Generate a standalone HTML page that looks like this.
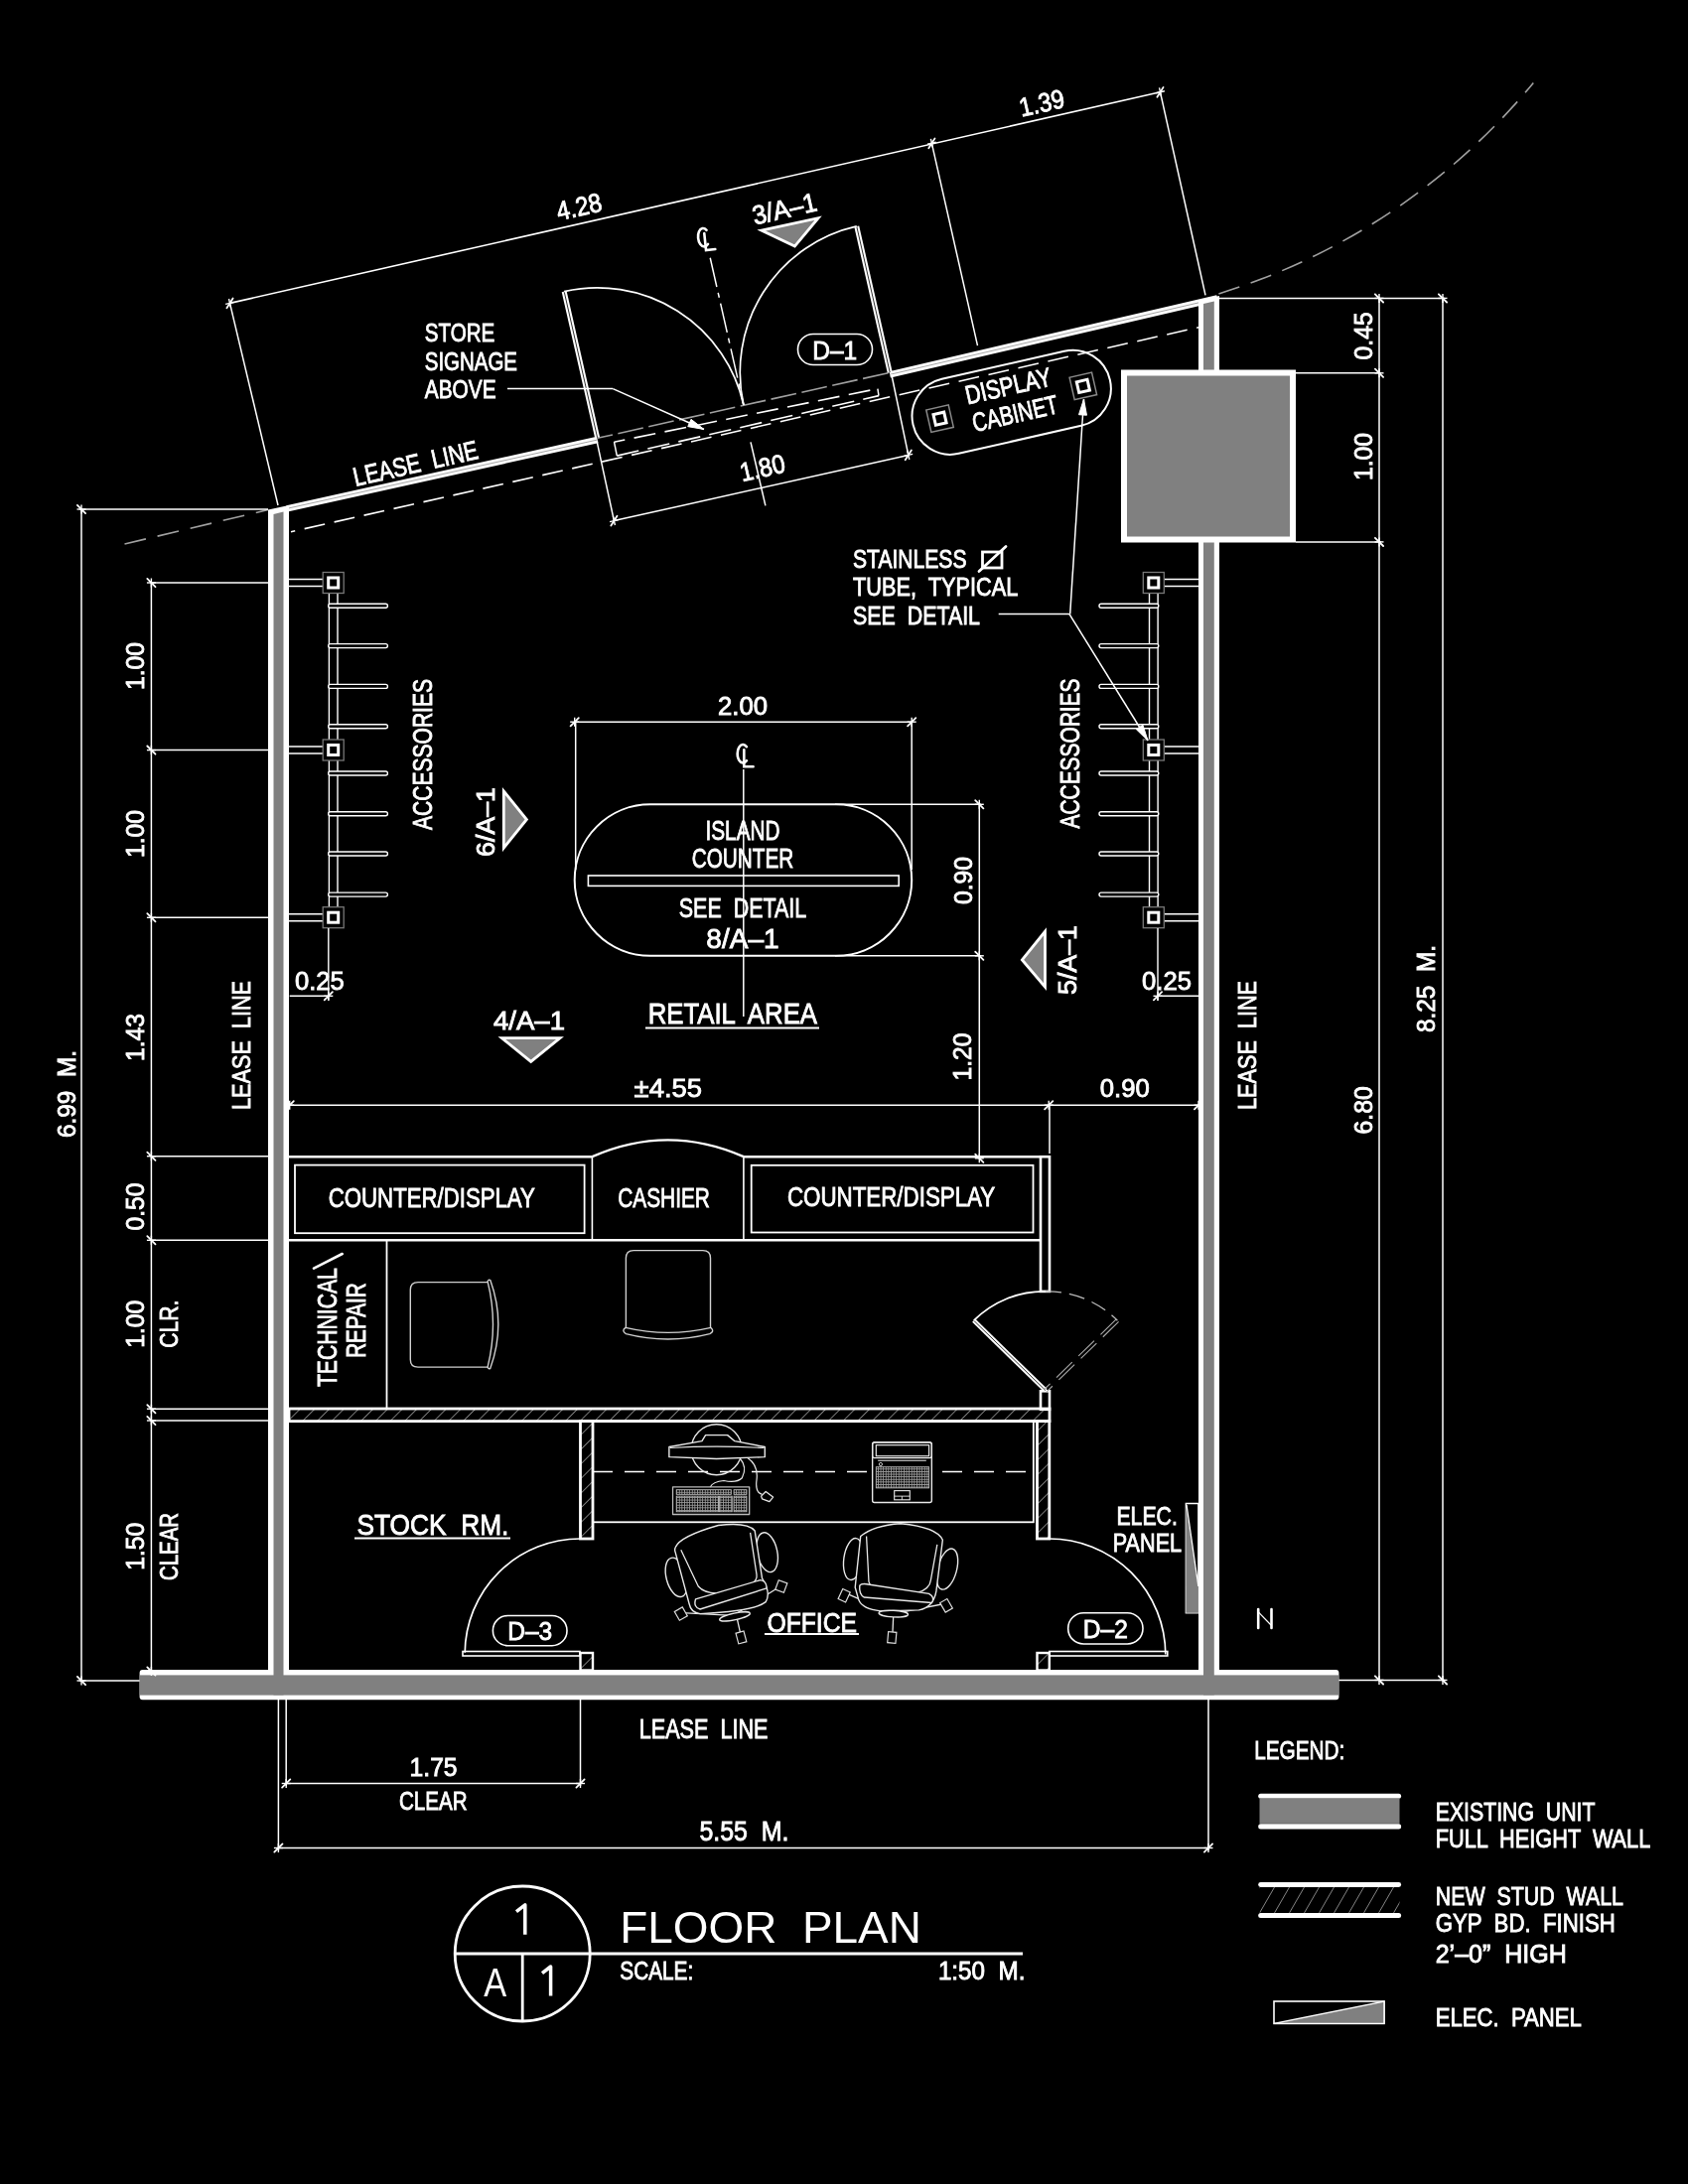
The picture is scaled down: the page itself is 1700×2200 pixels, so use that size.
<!DOCTYPE html>
<html><head><meta charset="utf-8"><style>
html,body{margin:0;padding:0;background:#000;}
svg{display:block;will-change:transform;}
text{font-family:"Liberation Sans", sans-serif;}
</style></head><body>
<svg width="1700" height="2200" viewBox="0 0 1700 2200" style="background:#000">
<path d="M1227.4,295.9 A662.4,662.4 0 0 0 1544.3,83.5" fill="none" stroke="#a0a0a0" stroke-width="1.6" stroke-dasharray="22 12"/>
<line x1="125.5" y1="548" x2="270" y2="513.5" stroke="#a0a0a0" stroke-width="1.6" stroke-dasharray="22 12" stroke-linecap="butt"/>
<line x1="231.5" y1="305.4" x2="1168.5" y2="92.8" stroke="#fff" stroke-width="1.6" stroke-linecap="butt"/>
<line x1="228.41" y1="310.31" x2="234.59" y2="300.49" stroke="#fff" stroke-width="1.8" stroke-linecap="round"/>
<line x1="227.11" y1="306.4" x2="235.89" y2="304.4" stroke="#fff" stroke-width="1.4" stroke-linecap="butt"/>
<line x1="230.5" y1="301.01" x2="232.5" y2="309.79" stroke="#fff" stroke-width="1.4" stroke-linecap="butt"/>
<line x1="935.31" y1="149.21" x2="941.49" y2="139.39" stroke="#fff" stroke-width="1.8" stroke-linecap="round"/>
<line x1="934.01" y1="145.3" x2="942.79" y2="143.3" stroke="#fff" stroke-width="1.4" stroke-linecap="butt"/>
<line x1="937.4" y1="139.91" x2="939.4" y2="148.69" stroke="#fff" stroke-width="1.4" stroke-linecap="butt"/>
<line x1="1165.41" y1="97.71" x2="1171.59" y2="87.89" stroke="#fff" stroke-width="1.8" stroke-linecap="round"/>
<line x1="1164.11" y1="93.8" x2="1172.89" y2="91.8" stroke="#fff" stroke-width="1.4" stroke-linecap="butt"/>
<line x1="1167.5" y1="88.41" x2="1169.5" y2="97.19" stroke="#fff" stroke-width="1.4" stroke-linecap="butt"/>
<line x1="231.5" y1="305.4" x2="280" y2="509" stroke="#fff" stroke-width="1.5" stroke-linecap="butt"/>
<line x1="938.4" y1="144.3" x2="984.5" y2="348.2" stroke="#fff" stroke-width="1.5" stroke-linecap="butt"/>
<line x1="1168.5" y1="92.8" x2="1214" y2="297.3" stroke="#fff" stroke-width="1.5" stroke-linecap="butt"/>
<text transform="translate(583,208) rotate(-12.8)" x="0" y="9.5" font-size="26.54" text-anchor="middle" fill="#fff" stroke="#fff" stroke-width="0.85" textLength="46" lengthAdjust="spacingAndGlyphs" font-weight="normal" xml:space="preserve">4.28</text>
<text transform="translate(1049,103.5) rotate(-12.8)" x="0" y="9.5" font-size="26.54" text-anchor="middle" fill="#fff" stroke="#fff" stroke-width="0.85" textLength="46" lengthAdjust="spacingAndGlyphs" font-weight="normal" xml:space="preserve">1.39</text>
<line x1="289" y1="512.3" x2="601.8" y2="443" stroke="#fff" stroke-width="6.5" stroke-linecap="butt"/>
<line x1="289" y1="512.3" x2="601.8" y2="443" stroke="#9a9a9a" stroke-width="0.9" stroke-linecap="butt"/>
<line x1="896.2" y1="377.3" x2="1226" y2="300.5" stroke="#fff" stroke-width="6.5" stroke-linecap="butt"/>
<line x1="896.2" y1="377.3" x2="1226" y2="300.5" stroke="#9a9a9a" stroke-width="0.9" stroke-linecap="butt"/>
<line x1="601.8" y1="441.3" x2="896.2" y2="375.3" stroke="#a0a0a0" stroke-width="1.6" stroke-dasharray="26 5.6" stroke-dashoffset="10.5" stroke-linecap="butt"/>
<line x1="618.5" y1="445.2" x2="883.9" y2="391.6" stroke="#fff" stroke-width="1.6" stroke-dasharray="22 9.5" stroke-dashoffset="11" stroke-linecap="butt"/>
<line x1="621.3" y1="459.1" x2="885" y2="398.6" stroke="#fff" stroke-width="1.6" stroke-dasharray="22.5 9.3" stroke-linecap="butt"/>
<line x1="618.5" y1="445.2" x2="621.3" y2="459.1" stroke="#fff" stroke-width="1.5" stroke-linecap="butt"/>
<line x1="883.9" y1="391.6" x2="885" y2="398.6" stroke="#fff" stroke-width="1.5" stroke-linecap="butt"/>
<line x1="293" y1="535.7" x2="1214.9" y2="328" stroke="#fff" stroke-width="1.6" stroke-dasharray="21 9.7" stroke-dashoffset="16.7" stroke-linecap="butt"/>
<line x1="601.6" y1="440.8" x2="568.16" y2="293.63" stroke="#fff" stroke-width="5" stroke-linecap="butt"/>
<line x1="601.6" y1="440.8" x2="568.16" y2="293.63" stroke="#333" stroke-width="1" stroke-linecap="butt"/>
<line x1="896.2" y1="375.1" x2="862.76" y2="227.93" stroke="#fff" stroke-width="5" stroke-linecap="butt"/>
<line x1="896.2" y1="375.1" x2="862.76" y2="227.93" stroke="#333" stroke-width="1" stroke-linecap="butt"/>
<path d="M568.16,293.63 A150.92,150.92 0 0 1 748.9,407.95" fill="none" stroke="#fff" stroke-width="1.7"/>
<path d="M862.76,227.93 A150.92,150.92 0 0 0 748.9,407.95" fill="none" stroke="#fff" stroke-width="1.7"/>
<line x1="715.22" y1="259.73" x2="748.9" y2="407.95" stroke="#fff" stroke-width="1.5" stroke-dasharray="30 6 5 6" stroke-linecap="butt"/>
<line x1="756" y1="445.3" x2="770.9" y2="509.3" stroke="#fff" stroke-width="1.5" stroke-linecap="butt"/>
<g transform="translate(708.7,239.2) rotate(-6)" fill="none" stroke="#fff" stroke-width="2.6" stroke-linecap="round"><path d="M3.6,-7 A5.6,9.2 0 1 0 3.6,7"/><path d="M1,-4 V13 H10.3"/></g>
<text transform="translate(790,210) rotate(-12.8)" x="0" y="9.5" font-size="26.54" text-anchor="middle" fill="#fff" stroke="#fff" stroke-width="0.85" textLength="66" lengthAdjust="spacingAndGlyphs" font-weight="normal" xml:space="preserve">3/A–1</text>
<polygon points="766.7,232.1 824.1,219.7 800.4,248.1" fill="#808080" stroke="#fff" stroke-width="2.8" stroke-linejoin="miter" stroke-linecap="butt"/>
<rect x="803.5" y="336.5" width="75" height="31" rx="15.5" fill="none" stroke="#fff" stroke-width="1.6"/>
<text transform="translate(840.7,352) rotate(0)" x="0" y="9.5" font-size="26.54" text-anchor="middle" fill="#fff" stroke="#fff" stroke-width="0.85" textLength="45" lengthAdjust="spacingAndGlyphs" font-weight="normal" xml:space="preserve">D–1</text>
<text x="427.8" y="344.4" font-size="26.54" fill="#fff" stroke="#fff" stroke-width="0.85" textLength="70.5" lengthAdjust="spacingAndGlyphs" xml:space="preserve">STORE</text>
<text x="427.8" y="372.6" font-size="26.54" fill="#fff" stroke="#fff" stroke-width="0.85" textLength="93.2" lengthAdjust="spacingAndGlyphs" xml:space="preserve">SIGNAGE</text>
<text x="427.8" y="400.6" font-size="26.54" fill="#fff" stroke="#fff" stroke-width="0.85" textLength="71.8" lengthAdjust="spacingAndGlyphs" xml:space="preserve">ABOVE</text>
<line x1="511" y1="391.6" x2="617.3" y2="391.6" stroke="#fff" stroke-width="1.5" stroke-linecap="butt"/>
<line x1="617.3" y1="391.6" x2="709" y2="432.5" stroke="#fff" stroke-width="1.5" stroke-linecap="butt"/>
<polygon points="709,432.5 692.76,429.64 696.02,422.33" fill="#fff" stroke="#fff" stroke-width="1" stroke-linejoin="miter" stroke-linecap="butt"/>
<text transform="translate(418.4,466.5) rotate(-12.8)" x="0" y="9.5" font-size="26.54" text-anchor="middle" fill="#fff" stroke="#fff" stroke-width="0.85" textLength="128" lengthAdjust="spacingAndGlyphs" font-weight="normal" xml:space="preserve">LEASE  LINE</text>
<line x1="618.4" y1="524.6" x2="914.8" y2="458.4" stroke="#fff" stroke-width="1.5" stroke-linecap="butt"/>
<line x1="615.31" y1="529.51" x2="621.49" y2="519.69" stroke="#fff" stroke-width="1.8" stroke-linecap="round"/>
<line x1="614.01" y1="525.6" x2="622.79" y2="523.6" stroke="#fff" stroke-width="1.4" stroke-linecap="butt"/>
<line x1="617.4" y1="520.21" x2="619.4" y2="528.99" stroke="#fff" stroke-width="1.4" stroke-linecap="butt"/>
<line x1="911.71" y1="463.31" x2="917.89" y2="453.49" stroke="#fff" stroke-width="1.8" stroke-linecap="round"/>
<line x1="910.41" y1="459.4" x2="919.19" y2="457.4" stroke="#fff" stroke-width="1.4" stroke-linecap="butt"/>
<line x1="913.8" y1="454.01" x2="915.8" y2="462.79" stroke="#fff" stroke-width="1.4" stroke-linecap="butt"/>
<line x1="601.3" y1="445.3" x2="618.4" y2="524.6" stroke="#fff" stroke-width="1.5" stroke-linecap="butt"/>
<line x1="897.8" y1="377" x2="914.8" y2="458.4" stroke="#fff" stroke-width="1.5" stroke-linecap="butt"/>
<text transform="translate(767.7,471) rotate(-12.8)" x="0" y="9.5" font-size="26.54" text-anchor="middle" fill="#fff" stroke="#fff" stroke-width="0.85" textLength="46" lengthAdjust="spacingAndGlyphs" font-weight="normal" xml:space="preserve">1.80</text>
<g transform="translate(1018.7,405.3) rotate(-12.8)"><rect x="-101.7" y="-38.5" width="203.4" height="77" rx="38.5" fill="none" stroke="#fff" stroke-width="2"/><rect x="-85.5" y="-11.5" width="23" height="23" fill="none" stroke="#888" stroke-width="1.5"/><rect x="-79.5" y="-5.5" width="11" height="11" fill="none" stroke="#fff" stroke-width="3"/><rect x="62.5" y="-11.5" width="23" height="23" fill="none" stroke="#888" stroke-width="1.5"/><rect x="68.5" y="-5.5" width="11" height="11" fill="none" stroke="#fff" stroke-width="3"/></g>
<text transform="translate(1015.4,388.5) rotate(-12.8)" x="0" y="9.5" font-size="26.54" text-anchor="middle" fill="#fff" stroke="#fff" stroke-width="0.85" textLength="88" lengthAdjust="spacingAndGlyphs" font-weight="normal" xml:space="preserve">DISPLAY</text>
<text transform="translate(1022.2,416.2) rotate(-12.8)" x="0" y="9.5" font-size="26.54" text-anchor="middle" fill="#fff" stroke="#fff" stroke-width="0.85" textLength="88" lengthAdjust="spacingAndGlyphs" font-weight="normal" xml:space="preserve">CABINET</text>
<rect x="140.6" y="1682" width="1207.8" height="30.3" rx="3" fill="#fff"/>
<polygon points="270,513.5 291,509 291,1687 270,1687" fill="#fff" stroke-linejoin="miter" stroke-linecap="butt"/>
<polygon points="1207,302.5 1228,298 1228,1687 1207,1687" fill="#fff" stroke-linejoin="miter" stroke-linecap="butt"/>
<rect x="140.6" y="1687.4" width="1207.8" height="20.2" rx="0" fill="#808080"/>
<polygon points="275.5,518 285.5,515.5 285.5,1707.5 275.5,1707.5" fill="#808080" stroke-linejoin="miter" stroke-linecap="butt"/>
<polygon points="1212,306 1222.8,303.6 1222.8,1707.5 1212,1707.5" fill="#808080" stroke-linejoin="miter" stroke-linecap="butt"/>
<rect x="1132" y="375.5" width="170" height="168" rx="0" fill="#808080" stroke="#fff" stroke-width="6"/>
<line x1="1228" y1="300.4" x2="1455" y2="300.4" stroke="#fff" stroke-width="1.5" stroke-linecap="butt"/>
<line x1="1305" y1="375.8" x2="1391" y2="375.8" stroke="#fff" stroke-width="1.5" stroke-linecap="butt"/>
<line x1="1305" y1="545.9" x2="1391" y2="545.9" stroke="#fff" stroke-width="1.5" stroke-linecap="butt"/>
<line x1="1348.4" y1="1692.4" x2="1455" y2="1692.4" stroke="#fff" stroke-width="1.5" stroke-linecap="butt"/>
<line x1="1389" y1="300.4" x2="1389" y2="1692.4" stroke="#fff" stroke-width="1.5" stroke-linecap="butt"/>
<line x1="1453" y1="300.4" x2="1453" y2="1692.4" stroke="#fff" stroke-width="1.5" stroke-linecap="butt"/>
<line x1="1393.1" y1="304.5" x2="1384.9" y2="296.3" stroke="#fff" stroke-width="1.8" stroke-linecap="round"/>
<line x1="1389" y1="304.9" x2="1389" y2="295.9" stroke="#fff" stroke-width="1.4" stroke-linecap="butt"/>
<line x1="1384.5" y1="300.4" x2="1393.5" y2="300.4" stroke="#fff" stroke-width="1.4" stroke-linecap="butt"/>
<line x1="1393.1" y1="379.9" x2="1384.9" y2="371.7" stroke="#fff" stroke-width="1.8" stroke-linecap="round"/>
<line x1="1389" y1="380.3" x2="1389" y2="371.3" stroke="#fff" stroke-width="1.4" stroke-linecap="butt"/>
<line x1="1384.5" y1="375.8" x2="1393.5" y2="375.8" stroke="#fff" stroke-width="1.4" stroke-linecap="butt"/>
<line x1="1393.1" y1="550" x2="1384.9" y2="541.8" stroke="#fff" stroke-width="1.8" stroke-linecap="round"/>
<line x1="1389" y1="550.4" x2="1389" y2="541.4" stroke="#fff" stroke-width="1.4" stroke-linecap="butt"/>
<line x1="1384.5" y1="545.9" x2="1393.5" y2="545.9" stroke="#fff" stroke-width="1.4" stroke-linecap="butt"/>
<line x1="1393.1" y1="1696.5" x2="1384.9" y2="1688.3" stroke="#fff" stroke-width="1.8" stroke-linecap="round"/>
<line x1="1389" y1="1696.9" x2="1389" y2="1687.9" stroke="#fff" stroke-width="1.4" stroke-linecap="butt"/>
<line x1="1384.5" y1="1692.4" x2="1393.5" y2="1692.4" stroke="#fff" stroke-width="1.4" stroke-linecap="butt"/>
<line x1="1457.1" y1="304.5" x2="1448.9" y2="296.3" stroke="#fff" stroke-width="1.8" stroke-linecap="round"/>
<line x1="1453" y1="304.9" x2="1453" y2="295.9" stroke="#fff" stroke-width="1.4" stroke-linecap="butt"/>
<line x1="1448.5" y1="300.4" x2="1457.5" y2="300.4" stroke="#fff" stroke-width="1.4" stroke-linecap="butt"/>
<line x1="1457.1" y1="1696.5" x2="1448.9" y2="1688.3" stroke="#fff" stroke-width="1.8" stroke-linecap="round"/>
<line x1="1453" y1="1696.9" x2="1453" y2="1687.9" stroke="#fff" stroke-width="1.4" stroke-linecap="butt"/>
<line x1="1448.5" y1="1692.4" x2="1457.5" y2="1692.4" stroke="#fff" stroke-width="1.4" stroke-linecap="butt"/>
<text transform="translate(1372,338.4) rotate(-90)" x="0" y="9.5" font-size="26.54" text-anchor="middle" fill="#fff" stroke="#fff" stroke-width="0.85" textLength="48" lengthAdjust="spacingAndGlyphs" font-weight="normal" xml:space="preserve">0.45</text>
<text transform="translate(1372,460) rotate(-90)" x="0" y="9.5" font-size="26.54" text-anchor="middle" fill="#fff" stroke="#fff" stroke-width="0.85" textLength="48" lengthAdjust="spacingAndGlyphs" font-weight="normal" xml:space="preserve">1.00</text>
<text transform="translate(1372.5,1118.4) rotate(-90)" x="0" y="9.5" font-size="26.54" text-anchor="middle" fill="#fff" stroke="#fff" stroke-width="0.85" textLength="48" lengthAdjust="spacingAndGlyphs" font-weight="normal" xml:space="preserve">6.80</text>
<text transform="translate(1435.8,996) rotate(-90)" x="0" y="9.5" font-size="26.54" text-anchor="middle" fill="#fff" stroke="#fff" stroke-width="0.85" textLength="88" lengthAdjust="spacingAndGlyphs" font-weight="normal" xml:space="preserve">8.25  M.</text>
<text transform="translate(1255.3,1053) rotate(-90)" x="0" y="9.5" font-size="26.54" text-anchor="middle" fill="#fff" stroke="#fff" stroke-width="0.85" textLength="130" lengthAdjust="spacingAndGlyphs" font-weight="normal" xml:space="preserve">LEASE  LINE</text>
<line x1="80" y1="513" x2="270" y2="513" stroke="#fff" stroke-width="1.5" stroke-linecap="butt"/>
<line x1="80" y1="1693" x2="140.6" y2="1693" stroke="#fff" stroke-width="1.5" stroke-linecap="butt"/>
<line x1="82" y1="513" x2="82" y2="1693" stroke="#fff" stroke-width="1.5" stroke-linecap="butt"/>
<line x1="86.1" y1="517.1" x2="77.9" y2="508.9" stroke="#fff" stroke-width="1.8" stroke-linecap="round"/>
<line x1="82" y1="517.5" x2="82" y2="508.5" stroke="#fff" stroke-width="1.4" stroke-linecap="butt"/>
<line x1="77.5" y1="513" x2="86.5" y2="513" stroke="#fff" stroke-width="1.4" stroke-linecap="butt"/>
<line x1="86.1" y1="1697.1" x2="77.9" y2="1688.9" stroke="#fff" stroke-width="1.8" stroke-linecap="round"/>
<line x1="82" y1="1697.5" x2="82" y2="1688.5" stroke="#fff" stroke-width="1.4" stroke-linecap="butt"/>
<line x1="77.5" y1="1693" x2="86.5" y2="1693" stroke="#fff" stroke-width="1.4" stroke-linecap="butt"/>
<line x1="152.4" y1="587" x2="152.4" y2="1683.5" stroke="#fff" stroke-width="1.5" stroke-linecap="butt"/>
<line x1="152.4" y1="587" x2="270" y2="587" stroke="#fff" stroke-width="1.5" stroke-linecap="butt"/>
<line x1="152.4" y1="755.6" x2="270" y2="755.6" stroke="#fff" stroke-width="1.5" stroke-linecap="butt"/>
<line x1="152.4" y1="924.3" x2="270" y2="924.3" stroke="#fff" stroke-width="1.5" stroke-linecap="butt"/>
<line x1="152.4" y1="1164.7" x2="270" y2="1164.7" stroke="#fff" stroke-width="1.5" stroke-linecap="butt"/>
<line x1="152.4" y1="1249.3" x2="270" y2="1249.3" stroke="#fff" stroke-width="1.5" stroke-linecap="butt"/>
<line x1="152.4" y1="1419.2" x2="270" y2="1419.2" stroke="#fff" stroke-width="1.5" stroke-linecap="butt"/>
<line x1="152.4" y1="1431" x2="270" y2="1431" stroke="#fff" stroke-width="1.5" stroke-linecap="butt"/>
<line x1="156.5" y1="591.1" x2="148.3" y2="582.9" stroke="#fff" stroke-width="1.8" stroke-linecap="round"/>
<line x1="152.4" y1="591.5" x2="152.4" y2="582.5" stroke="#fff" stroke-width="1.4" stroke-linecap="butt"/>
<line x1="147.9" y1="587" x2="156.9" y2="587" stroke="#fff" stroke-width="1.4" stroke-linecap="butt"/>
<line x1="156.5" y1="759.7" x2="148.3" y2="751.5" stroke="#fff" stroke-width="1.8" stroke-linecap="round"/>
<line x1="152.4" y1="760.1" x2="152.4" y2="751.1" stroke="#fff" stroke-width="1.4" stroke-linecap="butt"/>
<line x1="147.9" y1="755.6" x2="156.9" y2="755.6" stroke="#fff" stroke-width="1.4" stroke-linecap="butt"/>
<line x1="156.5" y1="928.4" x2="148.3" y2="920.2" stroke="#fff" stroke-width="1.8" stroke-linecap="round"/>
<line x1="152.4" y1="928.8" x2="152.4" y2="919.8" stroke="#fff" stroke-width="1.4" stroke-linecap="butt"/>
<line x1="147.9" y1="924.3" x2="156.9" y2="924.3" stroke="#fff" stroke-width="1.4" stroke-linecap="butt"/>
<line x1="156.5" y1="1168.8" x2="148.3" y2="1160.6" stroke="#fff" stroke-width="1.8" stroke-linecap="round"/>
<line x1="152.4" y1="1169.2" x2="152.4" y2="1160.2" stroke="#fff" stroke-width="1.4" stroke-linecap="butt"/>
<line x1="147.9" y1="1164.7" x2="156.9" y2="1164.7" stroke="#fff" stroke-width="1.4" stroke-linecap="butt"/>
<line x1="156.5" y1="1253.4" x2="148.3" y2="1245.2" stroke="#fff" stroke-width="1.8" stroke-linecap="round"/>
<line x1="152.4" y1="1253.8" x2="152.4" y2="1244.8" stroke="#fff" stroke-width="1.4" stroke-linecap="butt"/>
<line x1="147.9" y1="1249.3" x2="156.9" y2="1249.3" stroke="#fff" stroke-width="1.4" stroke-linecap="butt"/>
<line x1="156.5" y1="1423.3" x2="148.3" y2="1415.1" stroke="#fff" stroke-width="1.8" stroke-linecap="round"/>
<line x1="152.4" y1="1423.7" x2="152.4" y2="1414.7" stroke="#fff" stroke-width="1.4" stroke-linecap="butt"/>
<line x1="147.9" y1="1419.2" x2="156.9" y2="1419.2" stroke="#fff" stroke-width="1.4" stroke-linecap="butt"/>
<line x1="156.5" y1="1435.1" x2="148.3" y2="1426.9" stroke="#fff" stroke-width="1.8" stroke-linecap="round"/>
<line x1="152.4" y1="1435.5" x2="152.4" y2="1426.5" stroke="#fff" stroke-width="1.4" stroke-linecap="butt"/>
<line x1="147.9" y1="1431" x2="156.9" y2="1431" stroke="#fff" stroke-width="1.4" stroke-linecap="butt"/>
<line x1="156.5" y1="1687.6" x2="148.3" y2="1679.4" stroke="#fff" stroke-width="1.8" stroke-linecap="round"/>
<line x1="152.4" y1="1688" x2="152.4" y2="1679" stroke="#fff" stroke-width="1.4" stroke-linecap="butt"/>
<line x1="147.9" y1="1683.5" x2="156.9" y2="1683.5" stroke="#fff" stroke-width="1.4" stroke-linecap="butt"/>
<text transform="translate(135.6,671) rotate(-90)" x="0" y="9.5" font-size="26.54" text-anchor="middle" fill="#fff" stroke="#fff" stroke-width="0.85" textLength="48" lengthAdjust="spacingAndGlyphs" font-weight="normal" xml:space="preserve">1.00</text>
<text transform="translate(135.6,840) rotate(-90)" x="0" y="9.5" font-size="26.54" text-anchor="middle" fill="#fff" stroke="#fff" stroke-width="0.85" textLength="48" lengthAdjust="spacingAndGlyphs" font-weight="normal" xml:space="preserve">1.00</text>
<text transform="translate(135.3,1045) rotate(-90)" x="0" y="9.5" font-size="26.54" text-anchor="middle" fill="#fff" stroke="#fff" stroke-width="0.85" textLength="48" lengthAdjust="spacingAndGlyphs" font-weight="normal" xml:space="preserve">1.43</text>
<text transform="translate(135.3,1215.5) rotate(-90)" x="0" y="9.5" font-size="26.54" text-anchor="middle" fill="#fff" stroke="#fff" stroke-width="0.85" textLength="48" lengthAdjust="spacingAndGlyphs" font-weight="normal" xml:space="preserve">0.50</text>
<text transform="translate(135.3,1333.7) rotate(-90)" x="0" y="9.5" font-size="26.54" text-anchor="middle" fill="#fff" stroke="#fff" stroke-width="0.85" textLength="48" lengthAdjust="spacingAndGlyphs" font-weight="normal" xml:space="preserve">1.00</text>
<text transform="translate(169,1333.7) rotate(-90)" x="0" y="9.5" font-size="26.54" text-anchor="middle" fill="#fff" stroke="#fff" stroke-width="0.85" textLength="48" lengthAdjust="spacingAndGlyphs" font-weight="normal" xml:space="preserve">CLR.</text>
<text transform="translate(135.5,1557.7) rotate(-90)" x="0" y="9.5" font-size="26.54" text-anchor="middle" fill="#fff" stroke="#fff" stroke-width="0.85" textLength="48" lengthAdjust="spacingAndGlyphs" font-weight="normal" xml:space="preserve">1.50</text>
<text transform="translate(169,1558) rotate(-90)" x="0" y="9.5" font-size="26.54" text-anchor="middle" fill="#fff" stroke="#fff" stroke-width="0.85" textLength="68" lengthAdjust="spacingAndGlyphs" font-weight="normal" xml:space="preserve">CLEAR</text>
<text transform="translate(66,1102) rotate(-90)" x="0" y="9.5" font-size="26.54" text-anchor="middle" fill="#fff" stroke="#fff" stroke-width="0.85" textLength="88" lengthAdjust="spacingAndGlyphs" font-weight="normal" xml:space="preserve">6.99  M.</text>
<text transform="translate(242,1053) rotate(-90)" x="0" y="9.5" font-size="26.54" text-anchor="middle" fill="#fff" stroke="#fff" stroke-width="0.85" textLength="130" lengthAdjust="spacingAndGlyphs" font-weight="normal" xml:space="preserve">LEASE  LINE</text>
<rect x="331.4" y="583" width="8.6" height="345" rx="0" fill="none" stroke="#fff" stroke-width="1.4"/>
<rect x="330.7" y="608.3" width="59.7" height="4" rx="2" fill="#000" stroke="#fff" stroke-width="1.4"/>
<rect x="330.7" y="648.6" width="59.7" height="4" rx="2" fill="#000" stroke="#fff" stroke-width="1.4"/>
<rect x="330.7" y="689.4" width="59.7" height="4" rx="2" fill="#000" stroke="#fff" stroke-width="1.4"/>
<rect x="330.7" y="729.7" width="59.7" height="4" rx="2" fill="#000" stroke="#fff" stroke-width="1.4"/>
<rect x="330.7" y="777" width="59.7" height="4" rx="2" fill="#000" stroke="#fff" stroke-width="1.4"/>
<rect x="330.7" y="817.8" width="59.7" height="4" rx="2" fill="#000" stroke="#fff" stroke-width="1.4"/>
<rect x="330.7" y="858" width="59.7" height="4" rx="2" fill="#000" stroke="#fff" stroke-width="1.4"/>
<rect x="330.7" y="899.1" width="59.7" height="4" rx="2" fill="#000" stroke="#fff" stroke-width="1.4"/>
<line x1="291" y1="583.5" x2="335.7" y2="583.5" stroke="#fff" stroke-width="1.4" stroke-linecap="butt"/>
<line x1="291" y1="590.5" x2="335.7" y2="590.5" stroke="#fff" stroke-width="1.4" stroke-linecap="butt"/>
<rect x="325.2" y="576.5" width="21" height="21" rx="0" fill="#000" stroke="#777" stroke-width="1.3"/>
<rect x="330.7" y="582" width="10" height="10" rx="0" fill="#000" stroke="#fff" stroke-width="3"/>
<line x1="291" y1="752" x2="335.7" y2="752" stroke="#fff" stroke-width="1.4" stroke-linecap="butt"/>
<line x1="291" y1="759" x2="335.7" y2="759" stroke="#fff" stroke-width="1.4" stroke-linecap="butt"/>
<rect x="325.2" y="745" width="21" height="21" rx="0" fill="#000" stroke="#777" stroke-width="1.3"/>
<rect x="330.7" y="750.5" width="10" height="10" rx="0" fill="#000" stroke="#fff" stroke-width="3"/>
<line x1="291" y1="920.7" x2="335.7" y2="920.7" stroke="#fff" stroke-width="1.4" stroke-linecap="butt"/>
<line x1="291" y1="927.7" x2="335.7" y2="927.7" stroke="#fff" stroke-width="1.4" stroke-linecap="butt"/>
<rect x="325.2" y="913.7" width="21" height="21" rx="0" fill="#000" stroke="#777" stroke-width="1.3"/>
<rect x="330.7" y="919.2" width="10" height="10" rx="0" fill="#000" stroke="#fff" stroke-width="3"/>
<rect x="1157.5" y="583" width="8.6" height="345" rx="0" fill="none" stroke="#fff" stroke-width="1.4"/>
<rect x="1107" y="608.3" width="59.8" height="4" rx="2" fill="#000" stroke="#fff" stroke-width="1.4"/>
<rect x="1107" y="648.6" width="59.8" height="4" rx="2" fill="#000" stroke="#fff" stroke-width="1.4"/>
<rect x="1107" y="689.4" width="59.8" height="4" rx="2" fill="#000" stroke="#fff" stroke-width="1.4"/>
<rect x="1107" y="729.7" width="59.8" height="4" rx="2" fill="#000" stroke="#fff" stroke-width="1.4"/>
<rect x="1107" y="777" width="59.8" height="4" rx="2" fill="#000" stroke="#fff" stroke-width="1.4"/>
<rect x="1107" y="817.8" width="59.8" height="4" rx="2" fill="#000" stroke="#fff" stroke-width="1.4"/>
<rect x="1107" y="858" width="59.8" height="4" rx="2" fill="#000" stroke="#fff" stroke-width="1.4"/>
<rect x="1107" y="899.1" width="59.8" height="4" rx="2" fill="#000" stroke="#fff" stroke-width="1.4"/>
<line x1="1161.8" y1="583.5" x2="1207" y2="583.5" stroke="#fff" stroke-width="1.4" stroke-linecap="butt"/>
<line x1="1161.8" y1="590.5" x2="1207" y2="590.5" stroke="#fff" stroke-width="1.4" stroke-linecap="butt"/>
<rect x="1151.3" y="576.5" width="21" height="21" rx="0" fill="#000" stroke="#777" stroke-width="1.3"/>
<rect x="1156.8" y="582" width="10" height="10" rx="0" fill="#000" stroke="#fff" stroke-width="3"/>
<line x1="1161.8" y1="752" x2="1207" y2="752" stroke="#fff" stroke-width="1.4" stroke-linecap="butt"/>
<line x1="1161.8" y1="759" x2="1207" y2="759" stroke="#fff" stroke-width="1.4" stroke-linecap="butt"/>
<rect x="1151.3" y="745" width="21" height="21" rx="0" fill="#000" stroke="#777" stroke-width="1.3"/>
<rect x="1156.8" y="750.5" width="10" height="10" rx="0" fill="#000" stroke="#fff" stroke-width="3"/>
<line x1="1161.8" y1="920.7" x2="1207" y2="920.7" stroke="#fff" stroke-width="1.4" stroke-linecap="butt"/>
<line x1="1161.8" y1="927.7" x2="1207" y2="927.7" stroke="#fff" stroke-width="1.4" stroke-linecap="butt"/>
<rect x="1151.3" y="913.7" width="21" height="21" rx="0" fill="#000" stroke="#777" stroke-width="1.3"/>
<rect x="1156.8" y="919.2" width="10" height="10" rx="0" fill="#000" stroke="#fff" stroke-width="3"/>
<text transform="translate(425,760) rotate(-90)" x="0" y="10" font-size="27.93" text-anchor="middle" fill="#fff" stroke="#fff" stroke-width="0.85" textLength="152" lengthAdjust="spacingAndGlyphs" font-weight="normal" xml:space="preserve">ACCESSORIES</text>
<text transform="translate(1077,759) rotate(-90)" x="0" y="10" font-size="27.93" text-anchor="middle" fill="#fff" stroke="#fff" stroke-width="0.85" textLength="151" lengthAdjust="spacingAndGlyphs" font-weight="normal" xml:space="preserve">ACCESSORIES</text>
<line x1="330.8" y1="935" x2="330.8" y2="1008" stroke="#fff" stroke-width="1.4" stroke-linecap="butt"/>
<line x1="291.7" y1="1003.3" x2="330.8" y2="1003.3" stroke="#fff" stroke-width="1.4" stroke-linecap="butt"/>
<line x1="326.7" y1="1007.4" x2="334.9" y2="999.2" stroke="#fff" stroke-width="1.8" stroke-linecap="round"/>
<line x1="326.3" y1="1003.3" x2="335.3" y2="1003.3" stroke="#fff" stroke-width="1.4" stroke-linecap="butt"/>
<line x1="330.8" y1="998.8" x2="330.8" y2="1007.8" stroke="#fff" stroke-width="1.4" stroke-linecap="butt"/>
<text x="297" y="996.9" font-size="26.54" fill="#fff" stroke="#fff" stroke-width="0.85" textLength="49.8" lengthAdjust="spacingAndGlyphs" xml:space="preserve">0.25</text>
<line x1="1166" y1="935" x2="1166" y2="1008" stroke="#fff" stroke-width="1.4" stroke-linecap="butt"/>
<line x1="1166" y1="1003.3" x2="1207" y2="1003.3" stroke="#fff" stroke-width="1.4" stroke-linecap="butt"/>
<line x1="1161.9" y1="1007.4" x2="1170.1" y2="999.2" stroke="#fff" stroke-width="1.8" stroke-linecap="round"/>
<line x1="1161.5" y1="1003.3" x2="1170.5" y2="1003.3" stroke="#fff" stroke-width="1.4" stroke-linecap="butt"/>
<line x1="1166" y1="998.8" x2="1166" y2="1007.8" stroke="#fff" stroke-width="1.4" stroke-linecap="butt"/>
<text x="1150" y="996.9" font-size="26.54" fill="#fff" stroke="#fff" stroke-width="0.85" textLength="50" lengthAdjust="spacingAndGlyphs" xml:space="preserve">0.25</text>
<text x="859" y="572.3" font-size="25.56" fill="#fff" stroke="#fff" stroke-width="0.85" textLength="114.5" lengthAdjust="spacingAndGlyphs" xml:space="preserve">STAINLESS</text>
<rect x="989.5" y="556" width="19.5" height="16" rx="0" fill="none" stroke="#fff" stroke-width="2.8"/>
<line x1="986" y1="575.5" x2="1013" y2="550.5" stroke="#fff" stroke-width="2.8" stroke-linecap="round"/>
<text x="859" y="600.4" font-size="25.56" fill="#fff" stroke="#fff" stroke-width="0.85" textLength="166.3" lengthAdjust="spacingAndGlyphs" xml:space="preserve">TUBE,  TYPICAL</text>
<text x="859" y="629" font-size="25.56" fill="#fff" stroke="#fff" stroke-width="0.85" textLength="128" lengthAdjust="spacingAndGlyphs" xml:space="preserve">SEE  DETAIL</text>
<line x1="1005.7" y1="618.6" x2="1077" y2="618.6" stroke="#fff" stroke-width="1.5" stroke-linecap="butt"/>
<line x1="1077" y1="618.6" x2="1156" y2="746" stroke="#fff" stroke-width="1.5" stroke-linecap="butt"/>
<polygon points="1156,746 1144.17,734.51 1150.97,730.29" fill="#fff" stroke="#fff" stroke-width="1" stroke-linejoin="miter" stroke-linecap="butt"/>
<line x1="1077.7" y1="618.6" x2="1091.5" y2="402" stroke="#fff" stroke-width="1.5" stroke-linecap="butt"/>
<polygon points="1091.5,402 1094.47,418.22 1086.49,417.71" fill="#fff" stroke="#fff" stroke-width="1" stroke-linejoin="miter" stroke-linecap="butt"/>
<line x1="578.7" y1="727.2" x2="918.2" y2="727.2" stroke="#fff" stroke-width="1.5" stroke-linecap="butt"/>
<line x1="574.6" y1="731.3" x2="582.8" y2="723.1" stroke="#fff" stroke-width="1.8" stroke-linecap="round"/>
<line x1="574.2" y1="727.2" x2="583.2" y2="727.2" stroke="#fff" stroke-width="1.4" stroke-linecap="butt"/>
<line x1="578.7" y1="722.7" x2="578.7" y2="731.7" stroke="#fff" stroke-width="1.4" stroke-linecap="butt"/>
<line x1="914.1" y1="731.3" x2="922.3" y2="723.1" stroke="#fff" stroke-width="1.8" stroke-linecap="round"/>
<line x1="913.7" y1="727.2" x2="922.7" y2="727.2" stroke="#fff" stroke-width="1.4" stroke-linecap="butt"/>
<line x1="918.2" y1="722.7" x2="918.2" y2="731.7" stroke="#fff" stroke-width="1.4" stroke-linecap="butt"/>
<line x1="579.7" y1="727.2" x2="579.7" y2="876" stroke="#fff" stroke-width="1.5" stroke-linecap="butt"/>
<line x1="918.2" y1="727.2" x2="918.2" y2="876" stroke="#fff" stroke-width="1.5" stroke-linecap="butt"/>
<text transform="translate(748,711) rotate(0)" x="0" y="9" font-size="25.14" text-anchor="middle" fill="#fff" stroke="#fff" stroke-width="0.85" textLength="50" lengthAdjust="spacingAndGlyphs" font-weight="normal" xml:space="preserve">2.00</text>
<g transform="translate(748.3,759.2) rotate(0)" fill="none" stroke="#fff" stroke-width="2.6" stroke-linecap="round"><path d="M3.6,-7 A5.6,9.2 0 1 0 3.6,7"/><path d="M1,-4 V13 H10.3"/></g>
<line x1="748.8" y1="775" x2="748.8" y2="1024" stroke="#fff" stroke-width="1.5" stroke-linecap="butt"/>
<rect x="578.7" y="810.3" width="339.5" height="152.5" rx="76.2" fill="none" stroke="#fff" stroke-width="2"/>
<rect x="592.4" y="882" width="312.8" height="10.4" rx="0" fill="none" stroke="#fff" stroke-width="1.6"/>
<text x="748" y="846.2" font-size="27.93" text-anchor="middle" fill="#fff" stroke="#fff" stroke-width="0.85" textLength="75" lengthAdjust="spacingAndGlyphs" xml:space="preserve">ISLAND</text>
<text x="748" y="873.9" font-size="27.93" text-anchor="middle" fill="#fff" stroke="#fff" stroke-width="0.85" textLength="102.6" lengthAdjust="spacingAndGlyphs" xml:space="preserve">COUNTER</text>
<text x="748" y="923.7" font-size="27.93" text-anchor="middle" fill="#fff" stroke="#fff" stroke-width="0.85" textLength="128.4" lengthAdjust="spacingAndGlyphs" xml:space="preserve">SEE  DETAIL</text>
<text x="748" y="954.7" font-size="27.93" text-anchor="middle" fill="#fff" stroke="#fff" stroke-width="0.85" textLength="73.3" lengthAdjust="spacingAndGlyphs" xml:space="preserve">8/A–1</text>
<line x1="841" y1="810.3" x2="988" y2="810.3" stroke="#fff" stroke-width="1.5" stroke-linecap="butt"/>
<line x1="841" y1="962.8" x2="988" y2="962.8" stroke="#fff" stroke-width="1.5" stroke-linecap="butt"/>
<line x1="986.3" y1="810.3" x2="986.3" y2="1166.8" stroke="#fff" stroke-width="1.5" stroke-linecap="butt"/>
<line x1="990.4" y1="814.4" x2="982.2" y2="806.2" stroke="#fff" stroke-width="1.8" stroke-linecap="round"/>
<line x1="986.3" y1="814.8" x2="986.3" y2="805.8" stroke="#fff" stroke-width="1.4" stroke-linecap="butt"/>
<line x1="981.8" y1="810.3" x2="990.8" y2="810.3" stroke="#fff" stroke-width="1.4" stroke-linecap="butt"/>
<line x1="990.4" y1="966.9" x2="982.2" y2="958.7" stroke="#fff" stroke-width="1.8" stroke-linecap="round"/>
<line x1="986.3" y1="967.3" x2="986.3" y2="958.3" stroke="#fff" stroke-width="1.4" stroke-linecap="butt"/>
<line x1="981.8" y1="962.8" x2="990.8" y2="962.8" stroke="#fff" stroke-width="1.4" stroke-linecap="butt"/>
<line x1="990.4" y1="1170.9" x2="982.2" y2="1162.7" stroke="#fff" stroke-width="1.8" stroke-linecap="round"/>
<line x1="986.3" y1="1171.3" x2="986.3" y2="1162.3" stroke="#fff" stroke-width="1.4" stroke-linecap="butt"/>
<line x1="981.8" y1="1166.8" x2="990.8" y2="1166.8" stroke="#fff" stroke-width="1.4" stroke-linecap="butt"/>
<text transform="translate(969.7,887) rotate(-90)" x="0" y="9.5" font-size="26.54" text-anchor="middle" fill="#fff" stroke="#fff" stroke-width="0.85" textLength="48" lengthAdjust="spacingAndGlyphs" font-weight="normal" xml:space="preserve">0.90</text>
<text transform="translate(968,1064.5) rotate(-90)" x="0" y="9.5" font-size="26.54" text-anchor="middle" fill="#fff" stroke="#fff" stroke-width="0.85" textLength="48" lengthAdjust="spacingAndGlyphs" font-weight="normal" xml:space="preserve">1.20</text>
<polygon points="507.3,797 530.4,825.5 507.3,854.2" fill="#808080" stroke="#fff" stroke-width="2.8" stroke-linejoin="miter" stroke-linecap="butt"/>
<text transform="translate(488.1,828) rotate(-90)" x="0" y="9.5" font-size="26.54" text-anchor="middle" fill="#fff" stroke="#fff" stroke-width="0.85" textLength="70" lengthAdjust="spacingAndGlyphs" font-weight="normal" xml:space="preserve">6/A–1</text>
<text x="533" y="1036.8" font-size="26.54" text-anchor="middle" fill="#fff" stroke="#fff" stroke-width="0.85" textLength="72" lengthAdjust="spacingAndGlyphs" xml:space="preserve">4/A–1</text>
<polygon points="505.4,1045.6 564,1045.6 534.7,1069.4" fill="#808080" stroke="#fff" stroke-width="2.8" stroke-linejoin="miter" stroke-linecap="butt"/>
<polygon points="1029.4,966.9 1052.5,938.3 1052.5,994.1" fill="#808080" stroke="#fff" stroke-width="2.8" stroke-linejoin="miter" stroke-linecap="butt"/>
<text transform="translate(1074,967) rotate(-90)" x="0" y="9.5" font-size="26.54" text-anchor="middle" fill="#fff" stroke="#fff" stroke-width="0.85" textLength="70" lengthAdjust="spacingAndGlyphs" font-weight="normal" xml:space="preserve">5/A–1</text>
<text x="652.7" y="1031.3" font-size="28.63" fill="#fff" stroke="#fff" stroke-width="0.85" textLength="170.3" lengthAdjust="spacingAndGlyphs" xml:space="preserve">RETAIL  AREA</text>
<line x1="650" y1="1035.5" x2="825" y2="1035.5" stroke="#fff" stroke-width="2" stroke-linecap="butt"/>
<line x1="291.7" y1="1113.2" x2="1207" y2="1113.2" stroke="#fff" stroke-width="1.5" stroke-linecap="butt"/>
<line x1="287.6" y1="1117.3" x2="295.8" y2="1109.1" stroke="#fff" stroke-width="1.8" stroke-linecap="round"/>
<line x1="287.2" y1="1113.2" x2="296.2" y2="1113.2" stroke="#fff" stroke-width="1.4" stroke-linecap="butt"/>
<line x1="291.7" y1="1108.7" x2="291.7" y2="1117.7" stroke="#fff" stroke-width="1.4" stroke-linecap="butt"/>
<line x1="1052.1" y1="1117.3" x2="1060.3" y2="1109.1" stroke="#fff" stroke-width="1.8" stroke-linecap="round"/>
<line x1="1051.7" y1="1113.2" x2="1060.7" y2="1113.2" stroke="#fff" stroke-width="1.4" stroke-linecap="butt"/>
<line x1="1056.2" y1="1108.7" x2="1056.2" y2="1117.7" stroke="#fff" stroke-width="1.4" stroke-linecap="butt"/>
<line x1="1202.9" y1="1117.3" x2="1211.1" y2="1109.1" stroke="#fff" stroke-width="1.8" stroke-linecap="round"/>
<line x1="1202.5" y1="1113.2" x2="1211.5" y2="1113.2" stroke="#fff" stroke-width="1.4" stroke-linecap="butt"/>
<line x1="1207" y1="1108.7" x2="1207" y2="1117.7" stroke="#fff" stroke-width="1.4" stroke-linecap="butt"/>
<text x="638.6" y="1105.4" font-size="26.54" fill="#fff" stroke="#fff" stroke-width="0.85" textLength="68.4" lengthAdjust="spacingAndGlyphs" xml:space="preserve">±4.55</text>
<text x="1107.8" y="1105.4" font-size="26.54" fill="#fff" stroke="#fff" stroke-width="0.85" textLength="50" lengthAdjust="spacingAndGlyphs" xml:space="preserve">0.90</text>
<line x1="1057" y1="1113.2" x2="1057" y2="1162" stroke="#fff" stroke-width="1.5" stroke-linecap="butt"/>
<line x1="291" y1="1165.2" x2="596.4" y2="1165.2" stroke="#fff" stroke-width="2.6" stroke-linecap="butt"/>
<path d="M596.4,1165.2 Q672.6,1131.6 748.9,1165.2" fill="none" stroke="#fff" stroke-width="2.4"/>
<line x1="748.9" y1="1165.2" x2="1047.2" y2="1165.2" stroke="#fff" stroke-width="2.6" stroke-linecap="butt"/>
<line x1="291" y1="1249.2" x2="1047.2" y2="1249.2" stroke="#fff" stroke-width="2.6" stroke-linecap="butt"/>
<line x1="596.4" y1="1165.2" x2="596.4" y2="1249.2" stroke="#fff" stroke-width="1.6" stroke-linecap="butt"/>
<line x1="748.9" y1="1165.2" x2="748.9" y2="1249.2" stroke="#fff" stroke-width="1.6" stroke-linecap="butt"/>
<rect x="297" y="1173.6" width="291.6" height="68.6" rx="0" fill="none" stroke="#fff" stroke-width="1.8"/>
<rect x="756.7" y="1173.8" width="283.8" height="67.7" rx="0" fill="none" stroke="#fff" stroke-width="1.8"/>
<text x="330.8" y="1215.5" font-size="27.23" fill="#fff" stroke="#fff" stroke-width="0.85" textLength="208" lengthAdjust="spacingAndGlyphs" xml:space="preserve">COUNTER/DISPLAY</text>
<text x="622.2" y="1216" font-size="27.23" fill="#fff" stroke="#fff" stroke-width="0.85" textLength="92.7" lengthAdjust="spacingAndGlyphs" xml:space="preserve">CASHIER</text>
<text x="793" y="1214.9" font-size="27.23" fill="#fff" stroke="#fff" stroke-width="0.85" textLength="209.2" lengthAdjust="spacingAndGlyphs" xml:space="preserve">COUNTER/DISPLAY</text>
<rect x="1048" y="1165.2" width="9" height="135.7" rx="0" fill="#000" stroke="#fff" stroke-width="2.6"/>
<rect x="1048" y="1401.3" width="9" height="18.5" rx="0" fill="#000" stroke="#fff" stroke-width="2.6"/>
<line x1="980.7" y1="1330.2" x2="1053" y2="1400.6" stroke="#fff" stroke-width="4.5" stroke-linecap="butt"/>
<line x1="980.7" y1="1330.2" x2="1053" y2="1400.6" stroke="#333" stroke-width="1" stroke-linecap="butt"/>
<path d="M980.7,1330.2 A100,100 0 0 1 1053,1300.9" fill="none" stroke="#fff" stroke-width="1.7"/>
<path d="M1053,1300.9 A100,100 0 0 1 1125.4,1330.2" fill="none" stroke="#bbb" stroke-width="1.3" stroke-dasharray="16 8"/>
<line x1="1124.21" y1="1328.98" x2="1051.81" y2="1399.38" stroke="#aaa" stroke-width="1.1" stroke-dasharray="22 9" stroke-linecap="butt"/>
<line x1="1126.59" y1="1331.42" x2="1054.19" y2="1401.82" stroke="#aaa" stroke-width="1.1" stroke-dasharray="22 9" stroke-linecap="butt"/>
<line x1="389.5" y1="1249.2" x2="389.5" y2="1419.5" stroke="#fff" stroke-width="1.8" stroke-linecap="butt"/>
<text transform="translate(329.6,1337.1) rotate(-90)" x="0" y="9.75" font-size="27.23" text-anchor="middle" fill="#fff" stroke="#fff" stroke-width="0.85" textLength="120" lengthAdjust="spacingAndGlyphs" font-weight="normal" xml:space="preserve">TECHNICAL</text>
<line x1="316" y1="1277.7" x2="344.7" y2="1263" stroke="#fff" stroke-width="2.6" stroke-linecap="round"/>
<text transform="translate(357.8,1330.1) rotate(-90)" x="0" y="9.75" font-size="27.23" text-anchor="middle" fill="#fff" stroke="#fff" stroke-width="0.85" textLength="75.5" lengthAdjust="spacingAndGlyphs" font-weight="normal" xml:space="preserve">REPAIR</text>
<path d="M491.1,1291.6 H421 Q413.3,1291.6 413.3,1299.3 V1369.4 Q413.3,1377.1 421,1377.1 H491.1" fill="none" stroke="#d0d0d0" stroke-width="1.4"/>
<path d="M491.1,1290.8 Q501.9,1334 491.1,1377.1 Q492,1379.5 493.8,1378.3 Q509.8,1334 493.8,1289.6 Q492,1288.5 491.1,1290.8 Z" fill="none" stroke="#d0d0d0" stroke-width="1.4"/>
<path d="M630.4,1337 V1267.3 Q630.4,1259.6 638.1,1259.6 H707.8 Q715.5,1259.6 715.5,1267.3 V1337" fill="none" stroke="#d0d0d0" stroke-width="1.4"/>
<path d="M630,1337.4 Q672.8,1347.4 716,1337.4 Q720,1341 714.8,1343.6 Q672.8,1354.4 630.4,1343.6 Q625.5,1340.5 630,1337.4 Z" fill="none" stroke="#d0d0d0" stroke-width="1.4"/>
<defs><pattern id="hatch" patternUnits="userSpaceOnUse" width="10.4" height="10.4" patternTransform="rotate(45)"><line x1="0" y1="0" x2="0" y2="10.4" stroke="#ddd" stroke-width="1.1"/></pattern></defs>
<rect x="291" y="1419" width="766" height="12.6" rx="0" fill="url(#hatch)" stroke="#fff" stroke-width="2.8"/>
<rect x="584.5" y="1431.5" width="12.5" height="118.5" rx="0" fill="url(#hatch)" stroke="#fff" stroke-width="2.8"/>
<rect x="1044.5" y="1431.5" width="12.3" height="118.5" rx="0" fill="url(#hatch)" stroke="#fff" stroke-width="2.8"/>
<text x="359.5" y="1545.8" font-size="29.33" fill="#fff" stroke="#fff" stroke-width="0.85" textLength="152.9" lengthAdjust="spacingAndGlyphs" xml:space="preserve">STOCK  RM.</text>
<line x1="357" y1="1549.5" x2="514" y2="1549.5" stroke="#fff" stroke-width="2" stroke-linecap="butt"/>
<path d="M584.2,1550 A116,116 0 0 0 468.2,1664.8" fill="none" stroke="#fff" stroke-width="1.7"/>
<rect x="466" y="1663.5" width="118" height="4.5" rx="0" fill="none" stroke="#fff" stroke-width="1.6"/>
<rect x="584.5" y="1665" width="12.5" height="17.5" rx="0" fill="url(#hatch)" stroke="#fff" stroke-width="2.4"/>
<rect x="496.4" y="1627.5" width="74.6" height="30.2" rx="15" fill="none" stroke="#fff" stroke-width="1.6"/>
<text transform="translate(533.7,1642.6) rotate(0)" x="0" y="9.5" font-size="26.54" text-anchor="middle" fill="#fff" stroke="#fff" stroke-width="0.85" textLength="45" lengthAdjust="spacingAndGlyphs" font-weight="normal" xml:space="preserve">D–3</text>
<line x1="597" y1="1431.3" x2="1044.4" y2="1431.3" stroke="#fff" stroke-width="1.8" stroke-linecap="butt"/>
<rect x="597" y="1431.3" width="443.8" height="102" rx="0" fill="none" stroke="#fff" stroke-width="1.8"/>
<line x1="597" y1="1482.5" x2="1040" y2="1482.5" stroke="#fff" stroke-width="1.5" stroke-dasharray="20 12" stroke-linecap="butt"/>
<path d="M1056.8,1550 A117,117 0 0 1 1173.8,1666.6" fill="none" stroke="#fff" stroke-width="1.7"/>
<rect x="1056.8" y="1663.5" width="119" height="4.5" rx="0" fill="none" stroke="#fff" stroke-width="1.6"/>
<rect x="1044.5" y="1665" width="12.3" height="17.5" rx="0" fill="url(#hatch)" stroke="#fff" stroke-width="2.4"/>
<rect x="1075.7" y="1624.7" width="75.3" height="31.3" rx="15.6" fill="none" stroke="#fff" stroke-width="1.6"/>
<text transform="translate(1113.3,1640.3) rotate(0)" x="0" y="9.5" font-size="26.54" text-anchor="middle" fill="#fff" stroke="#fff" stroke-width="0.85" textLength="45" lengthAdjust="spacingAndGlyphs" font-weight="normal" xml:space="preserve">D–2</text>
<text x="772.4" y="1643.5" font-size="27.93" fill="#fff" stroke="#fff" stroke-width="0.85" textLength="90.7" lengthAdjust="spacingAndGlyphs" xml:space="preserve">OFFICE</text>
<line x1="770" y1="1646" x2="865" y2="1646" stroke="#fff" stroke-width="2" stroke-linecap="butt"/>
<text x="1124.4" y="1536.2" font-size="26.54" fill="#fff" stroke="#fff" stroke-width="0.85" textLength="61.5" lengthAdjust="spacingAndGlyphs" xml:space="preserve">ELEC.</text>
<text x="1120.8" y="1562.8" font-size="26.54" fill="#fff" stroke="#fff" stroke-width="0.85" textLength="69.3" lengthAdjust="spacingAndGlyphs" xml:space="preserve">PANEL</text>
<rect x="1194.4" y="1514.5" width="12.5" height="110.2" rx="0" fill="none" stroke="#fff" stroke-width="1.5"/>
<polygon points="1194.4,1516 1206.9,1598 1206.9,1624.7 1194.4,1624.7" fill="#808080" stroke-linejoin="miter" stroke-linecap="butt"/>
<line x1="1195" y1="1516" x2="1206.9" y2="1598" stroke="#fff" stroke-width="1.3" stroke-linecap="butt"/>
<path d="M1267.2,1640 V1621 M1280.5,1621 V1640" fill="none" stroke="#fff" stroke-width="2.6" stroke-linecap="round"/>
<path d="M1267.5,1624 L1280,1637" fill="none" stroke="#fff" stroke-width="1.1"/>
<defs><pattern id="keys" patternUnits="userSpaceOnUse" width="2.6" height="2.6"><rect x="0" y="0" width="2.6" height="2.6" fill="#000"/><rect x="0" y="0" width="2.6" height="0.9" fill="#9a9a9a"/><rect x="0" y="0" width="0.9" height="2.6" fill="#9a9a9a"/></pattern></defs>
<circle cx="721.63" cy="1460.3" r="25.5" fill="none" stroke="#e8e8e8" stroke-width="1.4"/>
<path d="M673.88,1457.55 L706.93,1451.67 710.61,1445.61 732.64,1445.61 739.99,1451.67 770.29,1457.55 770.29,1467.65 721.63,1469.49 673.88,1467.65 Z" fill="#000" stroke="#e8e8e8" stroke-width="1.4" stroke-linejoin="round"/>
<path d="M674.79,1458.47 Q721.63,1455.71 769.38,1458.47" fill="none" stroke="#e8e8e8" stroke-width="1.1" stroke-linejoin="round"/>
<path d="M745.5,1469.49 Q752.85,1477.75 747.34,1488.77 Q741.83,1494.28 728.97,1491.52 Q717.95,1492.44 715.2,1497.95" fill="none" stroke="#e8e8e8" stroke-width="1.2" stroke-linejoin="round"/>
<path d="M752.85,1468.57 Q763.87,1475.91 762.03,1490.61 Q760.19,1503.46 767.54,1505.3" fill="none" stroke="#e8e8e8" stroke-width="1.2" stroke-linejoin="round"/>
<path d="M766.62,1507.13 L771.21,1502.54 778.56,1508.05 774.89,1512.64 767.54,1509.89 Z" fill="none" stroke="#e8e8e8" stroke-width="1.3" stroke-linejoin="round"/>
<path d="M677.55,1497.95 L754.68,1497.95 754.68,1525.5 677.55,1525.5 Z" fill="none" stroke="#bbb" stroke-width="1.3" stroke-linejoin="round"/>
<rect x="681.22" y="1500.71" width="55.1" height="4.59" rx="0" fill="url(#keys)" stroke="#bbb" stroke-width="0.9"/>
<rect x="739.07" y="1500.71" width="12.86" height="4.59" rx="0" fill="url(#keys)" stroke="#bbb" stroke-width="0.9"/>
<rect x="681.22" y="1507.13" width="42.24" height="15.61" rx="0" fill="url(#keys)" stroke="#bbb" stroke-width="0.9"/>
<rect x="724.38" y="1507.13" width="12.86" height="15.61" rx="0" fill="url(#keys)" stroke="#bbb" stroke-width="0.9"/>
<rect x="739.07" y="1507.13" width="12.86" height="15.61" rx="0" fill="url(#keys)" stroke="#bbb" stroke-width="0.9"/>
<rect x="878.65" y="1452.96" width="59.69" height="60.61" rx="2" fill="#000" stroke="#e8e8e8" stroke-width="1.4"/>
<rect x="878.65" y="1452.96" width="59.69" height="15.61" rx="2" fill="none" stroke="#e8e8e8" stroke-width="1.3"/>
<rect x="882.32" y="1455.71" width="53.26" height="11.02" rx="0" fill="none" stroke="#e8e8e8" stroke-width="1.2"/>
<path d="M884.16,1471.32 L932.83,1471.32" fill="none" stroke="#e8e8e8" stroke-width="1.1" stroke-linejoin="round"/>
<rect x="882.32" y="1477.75" width="53.26" height="21.12" rx="0" fill="url(#keys)" stroke="#bbb" stroke-width="0.9"/>
<rect x="900.69" y="1501.63" width="15.61" height="9.18" rx="0" fill="none" stroke="#e8e8e8" stroke-width="1.1"/>
<path d="M900.69,1507.13 L916.3,1507.13" fill="none" stroke="#e8e8e8" stroke-width="0.9" stroke-linejoin="round"/>
<path d="M908.4,1507.13 L908.4,1510.81" fill="none" stroke="#e8e8e8" stroke-width="0.9" stroke-linejoin="round"/>
<circle cx="886.91" cy="1475" r="1.6" fill="none" stroke="#ddd" stroke-width="0.9"/>
<path d="M738.15,1627.43 L686.73,1624.67" fill="none" stroke="#e8e8e8" stroke-width="1.3" stroke-linejoin="round"/>
<path d="M738.15,1627.43 L785.9,1598.04" fill="none" stroke="#e8e8e8" stroke-width="1.3" stroke-linejoin="round"/>
<path d="M741.83,1628.35 L746.42,1648.55" fill="none" stroke="#e8e8e8" stroke-width="1.3" stroke-linejoin="round"/>
<rect x="681.22" y="1620.54" width="9.18" height="10.1" transform="rotate(-30 685.81 1625.59)" fill="#000" stroke="#ddd" stroke-width="1.2"/>
<rect x="782.23" y="1592.99" width="9.18" height="10.1" transform="rotate(20 786.82 1598.04)" fill="#000" stroke="#ddd" stroke-width="1.2"/>
<rect x="742.29" y="1643.96" width="8.26" height="11.02" transform="rotate(-15 746.42 1649.47)" fill="#000" stroke="#ddd" stroke-width="1.2"/>
<ellipse cx="681.22" cy="1588.86" rx="10.1" ry="20.2" transform="rotate(-15 681.22 1588.86)" fill="#000" stroke="#e8e8e8" stroke-width="1.4"/>
<ellipse cx="772.68" cy="1563.7" rx="10.1" ry="20.2" transform="rotate(-12 772.68 1563.7)" fill="#000" stroke="#e8e8e8" stroke-width="1.4"/>
<path d="M680.3,1558.56 Q684.89,1547.54 723.46,1536.52 Q752.85,1532.85 760.19,1542.03 L767.54,1589.78 Q776.72,1604.47 771.21,1613.65 Q760.19,1622.84 705.1,1625.59 Q695.91,1624.67 694.08,1615.49 L680.3,1564.07 Q679.02,1561.31 680.3,1558.56 Z" fill="#000" stroke="#e8e8e8" stroke-width="1.4" stroke-linejoin="round"/>
<path d="M685.81,1561.31 L703.26,1598.04 Q710.61,1606.31 727.13,1604.47 L756.52,1596.21 Q762.95,1591.62 762.03,1586.11 L755.6,1543.87" fill="none" stroke="#e8e8e8" stroke-width="1.3" stroke-linejoin="round"/>
<path d="M700.51,1610.9 L765.7,1591.62 Q772.13,1592.53 772.13,1599.88 L705.1,1621 Q698.12,1619.16 700.51,1610.9 Z" fill="#000" stroke="#e8e8e8" stroke-width="1.4" stroke-linejoin="round"/>
<ellipse cx="739.99" cy="1628.35" rx="15.61" ry="3.31" transform="rotate(-12 739.99 1628.35)" fill="#000" stroke="#e8e8e8" stroke-width="1.4"/>
<path d="M899.77,1625.59 L852.94,1605.39" fill="none" stroke="#e8e8e8" stroke-width="1.3" stroke-linejoin="round"/>
<path d="M899.77,1625.59 L951.19,1615.49" fill="none" stroke="#e8e8e8" stroke-width="1.3" stroke-linejoin="round"/>
<path d="M899.77,1626.51 L898.85,1646.71" fill="none" stroke="#e8e8e8" stroke-width="1.3" stroke-linejoin="round"/>
<rect x="846.05" y="1601.72" width="8.26" height="11.02" transform="rotate(25 850.18 1607.23)" fill="#000" stroke="#ddd" stroke-width="1.2"/>
<rect x="948.9" y="1611.82" width="8.26" height="11.02" transform="rotate(-30 953.03 1617.33)" fill="#000" stroke="#ddd" stroke-width="1.2"/>
<rect x="894.17" y="1643.96" width="8.26" height="11.02" transform="rotate(5 898.3 1649.47)" fill="#000" stroke="#ddd" stroke-width="1.2"/>
<ellipse cx="859.37" cy="1570.5" rx="9.55" ry="21.12" transform="rotate(8 859.37 1570.5)" fill="#000" stroke="#e8e8e8" stroke-width="1.4"/>
<ellipse cx="953.95" cy="1580.6" rx="9.55" ry="21.12" transform="rotate(15 953.95 1580.6)" fill="#000" stroke="#e8e8e8" stroke-width="1.4"/>
<path d="M866.71,1547.54 Q879.57,1536.52 907.12,1534.68 Q943.85,1538.36 949.36,1551.21 L942.93,1602.64 Q940.17,1619.16 925.48,1621.92 L886.91,1622.84 Q868.55,1621 864.88,1611.82 L861.2,1598.96 L866.71,1547.54 Z" fill="#000" stroke="#e8e8e8" stroke-width="1.4" stroke-linejoin="round"/>
<path d="M872.59,1547.54 L874.98,1593.45 Q877.73,1603.55 892.42,1602.64 L923.65,1604.47 Q936.5,1600.8 937.42,1591.62 L943.85,1555.8" fill="none" stroke="#e8e8e8" stroke-width="1.3" stroke-linejoin="round"/>
<path d="M865.79,1597.13 Q867.63,1594.37 875.9,1596.21 L935.58,1605.39 Q942.01,1609.06 938.34,1614.57 L870.39,1609.06 Q864.88,1606.31 865.79,1597.13 Z" fill="#000" stroke="#e8e8e8" stroke-width="1.4" stroke-linejoin="round"/>
<ellipse cx="899.77" cy="1625.59" rx="14.69" ry="3.31" transform="rotate(3 899.77 1625.59)" fill="#000" stroke="#e8e8e8" stroke-width="1.4"/>
<line x1="280.4" y1="1712" x2="280.4" y2="1864" stroke="#fff" stroke-width="1.5" stroke-linecap="butt"/>
<line x1="288.2" y1="1712" x2="288.2" y2="1799" stroke="#fff" stroke-width="1.5" stroke-linecap="butt"/>
<line x1="584.5" y1="1712" x2="584.5" y2="1799" stroke="#fff" stroke-width="1.5" stroke-linecap="butt"/>
<line x1="1217" y1="1712" x2="1217" y2="1864" stroke="#fff" stroke-width="1.5" stroke-linecap="butt"/>
<line x1="288.2" y1="1796.5" x2="585" y2="1796.5" stroke="#fff" stroke-width="1.5" stroke-linecap="butt"/>
<line x1="284.1" y1="1800.6" x2="292.3" y2="1792.4" stroke="#fff" stroke-width="1.8" stroke-linecap="round"/>
<line x1="283.7" y1="1796.5" x2="292.7" y2="1796.5" stroke="#fff" stroke-width="1.4" stroke-linecap="butt"/>
<line x1="288.2" y1="1792" x2="288.2" y2="1801" stroke="#fff" stroke-width="1.4" stroke-linecap="butt"/>
<line x1="580.4" y1="1800.6" x2="588.6" y2="1792.4" stroke="#fff" stroke-width="1.8" stroke-linecap="round"/>
<line x1="580" y1="1796.5" x2="589" y2="1796.5" stroke="#fff" stroke-width="1.4" stroke-linecap="butt"/>
<line x1="584.5" y1="1792" x2="584.5" y2="1801" stroke="#fff" stroke-width="1.4" stroke-linecap="butt"/>
<text x="412.6" y="1788.6" font-size="25.14" fill="#fff" stroke="#fff" stroke-width="0.85" textLength="48" lengthAdjust="spacingAndGlyphs" xml:space="preserve">1.75</text>
<text x="402" y="1823.1" font-size="25.84" fill="#fff" stroke="#fff" stroke-width="0.85" textLength="68.6" lengthAdjust="spacingAndGlyphs" xml:space="preserve">CLEAR</text>
<text x="643.7" y="1751" font-size="27.09" fill="#fff" stroke="#fff" stroke-width="0.85" textLength="129.8" lengthAdjust="spacingAndGlyphs" xml:space="preserve">LEASE  LINE</text>
<line x1="280.4" y1="1861.5" x2="1217" y2="1861.5" stroke="#fff" stroke-width="1.5" stroke-linecap="butt"/>
<line x1="276.3" y1="1865.6" x2="284.5" y2="1857.4" stroke="#fff" stroke-width="1.8" stroke-linecap="round"/>
<line x1="275.9" y1="1861.5" x2="284.9" y2="1861.5" stroke="#fff" stroke-width="1.4" stroke-linecap="butt"/>
<line x1="280.4" y1="1857" x2="280.4" y2="1866" stroke="#fff" stroke-width="1.4" stroke-linecap="butt"/>
<line x1="1212.9" y1="1865.6" x2="1221.1" y2="1857.4" stroke="#fff" stroke-width="1.8" stroke-linecap="round"/>
<line x1="1212.5" y1="1861.5" x2="1221.5" y2="1861.5" stroke="#fff" stroke-width="1.4" stroke-linecap="butt"/>
<line x1="1217" y1="1857" x2="1217" y2="1866" stroke="#fff" stroke-width="1.4" stroke-linecap="butt"/>
<text x="704.5" y="1854" font-size="27.09" fill="#fff" stroke="#fff" stroke-width="0.85" textLength="89.8" lengthAdjust="spacingAndGlyphs" xml:space="preserve">5.55  M.</text>
<circle cx="526.2" cy="1968" r="68" fill="none" stroke="#fff" stroke-width="2.8"/>
<line x1="458.2" y1="1968" x2="1030" y2="1968" stroke="#fff" stroke-width="2.8" stroke-linecap="butt"/>
<line x1="526.2" y1="1968" x2="526.2" y2="2036" stroke="#fff" stroke-width="2.8" stroke-linecap="butt"/>
<path d="M528.8,1948.8 V1918.8 L520,1925.6" fill="none" stroke="#fff" stroke-width="3.5" stroke-linejoin="round"/>
<text x="487.3" y="2011" font-size="40.5" fill="#fff" textLength="22.9" lengthAdjust="spacingAndGlyphs" xml:space="preserve">A</text>
<path d="M554.6,2010.5 V1981 L546,1987.6" fill="none" stroke="#fff" stroke-width="3.5" stroke-linejoin="round"/>
<text x="624.3" y="1956.5" font-size="44.69" fill="#fff" textLength="303.6" lengthAdjust="spacingAndGlyphs" xml:space="preserve">FLOOR  PLAN</text>
<text x="624.3" y="1993.9" font-size="25.14" fill="#fff" stroke="#fff" stroke-width="0.85" textLength="73.9" lengthAdjust="spacingAndGlyphs" xml:space="preserve">SCALE:</text>
<text x="944.9" y="1993.9" font-size="25.14" fill="#fff" stroke="#fff" stroke-width="0.85" textLength="87.5" lengthAdjust="spacingAndGlyphs" xml:space="preserve">1:50  M.</text>
<defs><pattern id="hatch2" patternUnits="userSpaceOnUse" width="15" height="26" patternTransform="translate(1268,1901) skewX(-30)"><line x1="0" y1="0" x2="0" y2="26" stroke="#ccc" stroke-width="1.3"/></pattern></defs>
<text x="1263.2" y="1772.2" font-size="25.98" fill="#fff" stroke="#fff" stroke-width="0.85" textLength="91.2" lengthAdjust="spacingAndGlyphs" xml:space="preserve">LEGEND:</text>
<rect x="1267.2" y="1806.8" width="143.9" height="5" rx="2.5" fill="#fff"/>
<rect x="1268.5" y="1811.4" width="141" height="25.5" rx="0" fill="#808080"/>
<rect x="1267.2" y="1837.3" width="143.9" height="5.2" rx="2.5" fill="#fff"/>
<text x="1445.7" y="1833.5" font-size="25.84" fill="#fff" stroke="#fff" stroke-width="0.85" textLength="160.8" lengthAdjust="spacingAndGlyphs" xml:space="preserve">EXISTING  UNIT</text>
<text x="1445.7" y="1861.3" font-size="25.84" fill="#fff" stroke="#fff" stroke-width="0.85" textLength="216.6" lengthAdjust="spacingAndGlyphs" xml:space="preserve">FULL  HEIGHT  WALL</text>
<rect x="1267.2" y="1896.1" width="143.9" height="4.8" rx="2.4" fill="#fff"/>
<rect x="1268.5" y="1900.9" width="141" height="26" rx="0" fill="url(#hatch2)"/>
<rect x="1267.2" y="1926.9" width="143.9" height="5.2" rx="2.5" fill="#fff"/>
<text x="1445.7" y="1918.5" font-size="25.84" fill="#fff" stroke="#fff" stroke-width="0.85" textLength="189.3" lengthAdjust="spacingAndGlyphs" xml:space="preserve">NEW  STUD  WALL</text>
<text x="1445.7" y="1946.3" font-size="25.84" fill="#fff" stroke="#fff" stroke-width="0.85" textLength="181.2" lengthAdjust="spacingAndGlyphs" xml:space="preserve">GYP  BD.  FINISH</text>
<text x="1445.7" y="1977.1" font-size="25.84" fill="#fff" stroke="#fff" stroke-width="0.85" textLength="132.2" lengthAdjust="spacingAndGlyphs" xml:space="preserve">2’–0”  HIGH</text>
<rect x="1283" y="2016" width="111" height="22.4" rx="0" fill="none" stroke="#fff" stroke-width="1.6"/>
<polygon points="1283,2038.4 1394,2016 1394,2038.4" fill="#808080" stroke="#fff" stroke-width="1.4" stroke-linejoin="miter" stroke-linecap="butt"/>
<text x="1445.7" y="2041.1" font-size="25.84" fill="#fff" stroke="#fff" stroke-width="0.85" textLength="147.2" lengthAdjust="spacingAndGlyphs" xml:space="preserve">ELEC.  PANEL</text>
</svg></body></html>
